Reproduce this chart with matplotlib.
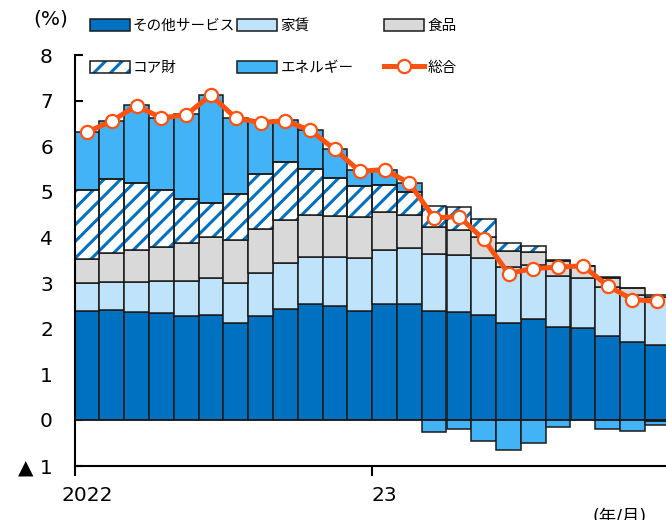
import numpy as np
import matplotlib
matplotlib.use("Agg")
import matplotlib.pyplot as plt
from matplotlib.patches import Patch
from matplotlib.lines import Line2D

plt.rcParams["font.family"] = ["DejaVu Sans", "Noto Sans CJK JP"]
plt.rcParams["hatch.linewidth"] = 2.2

# Monthly contributions to the year-on-year rate (%pt), Jan 2022 - Dec 2023
months = [f"2022-{m:02d}" for m in range(1, 13)] + [f"2023-{m:02d}" for m in range(1, 13)]
other_services = [2.39, 2.40, 2.37, 2.35, 2.29, 2.31, 2.13, 2.28, 2.43, 2.54, 2.49, 2.39,
                  2.54, 2.54, 2.38, 2.36, 2.30, 2.13, 2.22, 2.03, 2.02, 1.83, 1.70, 1.64]
rent = [0.62, 0.63, 0.66, 0.69, 0.76, 0.81, 0.88, 0.95, 1.01, 1.04, 1.09, 1.16,
        1.19, 1.22, 1.25, 1.26, 1.25, 1.22, 1.18, 1.13, 1.10, 1.08, 1.05, 1.05]
food = [0.51, 0.62, 0.70, 0.76, 0.83, 0.88, 0.94, 0.96, 0.94, 0.92, 0.89, 0.89,
        0.83, 0.74, 0.61, 0.54, 0.45, 0.36, 0.29, 0.33, 0.26, 0.21, 0.14, 0.04]
core_goods = [1.51, 1.64, 1.47, 1.24, 0.96, 0.75, 1.01, 1.20, 1.28, 1.00, 0.84, 0.68,
              0.60, 0.50, 0.45, 0.50, 0.41, 0.16, 0.13, 0.02, 0.00, 0.02, 0.00, -0.02]
energy = [1.28, 1.27, 1.70, 1.58, 1.86, 2.37, 1.66, 1.14, 0.91, 0.86, 0.63, 0.35,
          0.33, 0.19, -0.26, -0.20, -0.45, -0.65, -0.50, -0.15, 0.00, -0.20, -0.25, -0.10]
headline = [6.31, 6.55, 6.89, 6.62, 6.69, 7.12, 6.62, 6.52, 6.56, 6.35, 5.93, 5.45,
            5.49, 5.19, 4.43, 4.46, 3.96, 3.21, 3.32, 3.35, 3.38, 2.94, 2.64, 2.60]

year_ticks = ["2022", "23"]
y_ticks = list(range(-1, 9))
y_ticklabels = ["▲ 1"] + [str(v) for v in range(0, 9)]

C_OTHER = "#0070C0"
C_RENT = "#BFE3FA"
C_FOOD = "#D9D9D9"
C_ENERGY = "#41B3F6"
C_HATCH = "#0070C0"
C_LINE = "#FF5210"
C_EDGE = "#1A1A1A"

W, H = 666, 520
fig = plt.figure(figsize=(W / 100, H / 100), dpi=100)
ax = fig.add_axes([74.5 / W, 54.4 / H, 595.2 / W, 410.6 / H])

x = np.arange(len(months))
pos_base = np.zeros(len(x))
neg_base = np.zeros(len(x))

series = [
    ("その他サービス", other_services, dict(color=C_OTHER)),
    ("家賃", rent, dict(color=C_RENT)),
    ("食品", food, dict(color=C_FOOD)),
    ("コア財", core_goods, "hatch"),
    ("エネルギー", energy, dict(color=C_ENERGY)),
]

handles = {}
for name, vals, style in series:
    v = np.asarray(vals, dtype=float)
    bottoms = np.where(v >= 0, pos_base, neg_base)
    if style == "hatch":
        ax.bar(x, v, bottom=bottoms, width=1.0, color="white", edgecolor=C_HATCH,
               hatch="//", linewidth=0, zorder=2)
        ax.bar(x, v, bottom=bottoms, width=1.0, fill=False, edgecolor=C_EDGE,
               linewidth=1.1, zorder=2.1)
        handles[name] = (Patch(facecolor="white", edgecolor=C_HATCH, hatch="//", linewidth=0),
                         Patch(fill=False, edgecolor=C_EDGE, linewidth=1.1))
    else:
        ax.bar(x, v, bottom=bottoms, width=1.0, color=style["color"], edgecolor=C_EDGE,
               linewidth=1.1, zorder=2)
        handles[name] = Patch(facecolor=style["color"], edgecolor=C_EDGE, linewidth=1.1)
    pos_base = pos_base + np.where(v >= 0, v, 0)
    neg_base = neg_base + np.where(v < 0, v, 0)

ax.axhline(0, color=C_EDGE, linewidth=1.1, zorder=3)

line_kw = dict(color=C_LINE, linewidth=3.6, marker="o", markersize=9.5,
               markerfacecolor="white", markeredgecolor=C_LINE, markeredgewidth=1.6)
ax.plot(x, headline, zorder=5, **line_kw)
handles["総合"] = Line2D([], [], **line_kw)

ax.set_xlim(-0.5, 23.5)
ax.set_ylim(-1, 8)

for side in ("top", "right"):
    ax.spines[side].set_visible(False)
for side in ("left", "bottom"):
    ax.spines[side].set_linewidth(1.5)
    ax.spines[side].set_color("black")

ax.set_yticks(y_ticks, labels=y_ticklabels)
ax.tick_params(axis="y", direction="in", length=6, width=1.5, pad=15.5, labelsize=14.5)

ax.set_xticks([-0.5, 11.5, 23.5], labels=[])
ax.tick_params(axis="x", which="major", direction="out", length=7, width=1.5)
ax.set_xticks([0, 12], labels=year_ticks, minor=True)
ax.tick_params(axis="x", which="minor", length=0, pad=15, labelsize=14.5)

fig.text(51 / W, 1 - 19 / H, "(%)", ha="center", va="center", fontsize=14.5)
fig.text(593 / W, 1 - 508 / H, "(年/月)", ha="left", va="top", fontsize=12.5)

# Legend laid out as three two-row columns
columns = [
    (89.5, ["その他サービス", "コア財"]),
    (237, ["家賃", "エネルギー"]),
    (384, ["食品", "総合"]),
]
legend_kw = dict(loc="center left", frameon=False, borderpad=0, borderaxespad=0,
                 fontsize=10.5, handlelength=2.75, handleheight=0.9, handletextpad=0.22,
                 labelspacing=1.85)
for i, (xl, names) in enumerate(columns):
    leg = fig.legend([handles[n] for n in names], names,
                     bbox_to_anchor=(xl / W, 1 - 46.3 / H), **legend_kw)

fig.savefig("out.png", dpi=100)
